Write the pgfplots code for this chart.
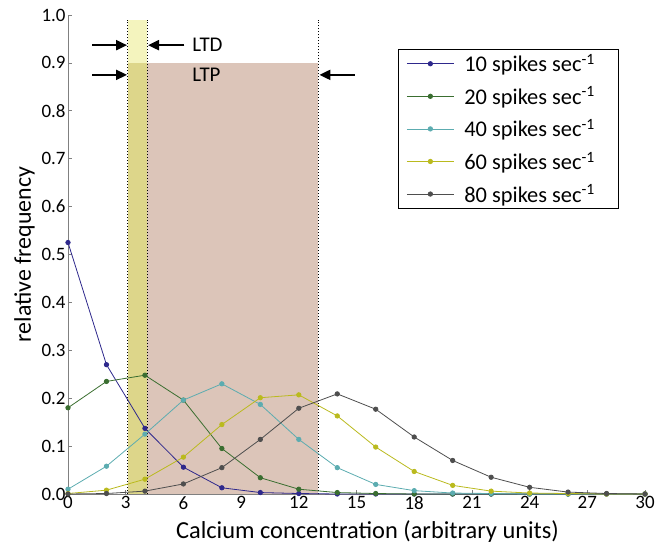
\documentclass[border=0pt]{standalone}
\usepackage{pgfplots}
\pgfplotsset{compat=1.18}
\usepackage{fontspec}
\setmainfont{Carlito}
\usetikzlibrary{arrows.meta}
\definecolor{c10}{RGB}{46,40,140}
\definecolor{c20}{RGB}{58,110,48}
\definecolor{c40}{RGB}{92,172,176}
\definecolor{c60}{RGB}{186,186,30}
\definecolor{c80}{RGB}{78,78,78}
\definecolor{ltdtop}{RGB}{244,244,190}
\definecolor{ltdbot}{RGB}{221,214,138}
\definecolor{ltp}{RGB}{220,197,185}
\begin{document}
\begin{tikzpicture}
\path[use as bounding box] (-68bp,-54bp) rectangle (602bp,494bp);
\begin{axis}[
  scale only axis, width=577bp, height=479bp,
  xmin=0, xmax=30, ymin=0, ymax=1,
  axis x line*=bottom, axis y line*=left,
  axis line style={gray, line width=0.7bp},
  tick style={gray, line width=0.7bp},
  tick align=inside, major tick length=4bp,
  xtick={0,3,...,30}, ytick={0,0.1,...,1.0},
  /pgf/number format/assume math mode=true,
  tick label style={font=\fontsize{19}{21}\selectfont},
  xticklabel style={yshift=1bp},
  yticklabel style={xshift=1bp, /pgf/number format/.cd, fixed, fixed zerofill, precision=1},
  xlabel={Calcium concentration (arbitrary units)},
  ylabel={relative frequency},
  xlabel style={font=\fontsize{24.5}{27}\selectfont, yshift=-4bp, xshift=11bp},
  ylabel style={font=\fontsize{24}{27}\selectfont, yshift=0bp},
  clip=false,
  every axis plot/.append style={line width=0.8bp, mark=*, mark size=2.2bp},
  legend style={at={(rel axis cs:0.572,0.595)}, anchor=south west, draw=black, line width=0.8bp,
    font=\fontsize{22.5}{26}\selectfont, row sep=9.5bp, inner xsep=8bp, inner ysep=3bp},
  legend cell align=left,
  legend image code/.code={\draw[mark repeat=2,mark phase=2] plot coordinates {(0cm,0cm) (0.83cm,0cm) (1.66cm,0cm)};},
]
% bands
\fill[ltdtop] (axis cs:3.1,0.9) rectangle (axis cs:4.1,0.99);
\fill[ltdbot] (axis cs:3.1,0) rectangle (axis cs:4.1,0.9);
\fill[ltp] (axis cs:4.1,0) rectangle (axis cs:13,0.9);
\draw[black, line width=0.5bp, dash pattern=on 1.5bp off 1.5bp] (axis cs:3.1,0) -- (axis cs:3.1,0.99);
\draw[black, line width=0.5bp, dash pattern=on 1.5bp off 1.5bp] (axis cs:4.1,0) -- (axis cs:4.1,0.99);
\draw[black, line width=0.5bp, dash pattern=on 1.5bp off 1.5bp] (axis cs:13,0) -- (axis cs:13,0.99);
% arrows
\draw[black, line width=2bp, -{Triangle[length=11bp,width=10bp]}] (axis cs:1.25,0.937) -- (axis cs:3.07,0.937);
\draw[black, line width=2bp, -{Triangle[length=11bp,width=10bp]}] (axis cs:6.05,0.937) -- (axis cs:4.16,0.937);
\draw[black, line width=2bp, -{Triangle[length=11bp,width=10bp]}] (axis cs:1.25,0.875) -- (axis cs:3.07,0.875);
\draw[black, line width=2bp, -{Triangle[length=11bp,width=10bp]}] (axis cs:14.9,0.875) -- (axis cs:13.07,0.875);
\node[anchor=west, font=\fontsize{21}{24}\selectfont, inner sep=0pt] at (axis cs:6.45,0.937) {LTD};
\node[anchor=west, font=\fontsize{21}{24}\selectfont, inner sep=0pt] at (axis cs:6.45,0.875) {LTP};

\addplot[c10, mark options={fill=c10}] coordinates {
(0,0.525)(2,0.270)(4,0.137)(6,0.056)(8,0.013)(10,0.003)(12,0.001)(14,0)(16,0)(18,0)(20,0)(22,0)(24,0)(26,0)(28,0)(30,0)};
\addlegendentry{\hspace{8bp}10 spikes sec\textsuperscript{-1}\hspace{14bp}\null}
\addplot[c20, mark options={fill=c20}] coordinates {
(0,0.180)(2,0.235)(4,0.248)(6,0.196)(8,0.095)(10,0.034)(12,0.010)(14,0.003)(16,0.001)(18,0)(20,0)(22,0)(24,0)(26,0)(28,0)(30,0)};
\addlegendentry{\hspace{8bp}20 spikes sec\textsuperscript{-1}\hspace{14bp}\null}
\addplot[c40, mark options={fill=c40}] coordinates {
(0,0.010)(2,0.058)(4,0.125)(6,0.196)(8,0.230)(10,0.187)(12,0.114)(14,0.055)(16,0.020)(18,0.007)(20,0.002)(22,0.001)(24,0)(26,0)(28,0)(30,0)};
\addlegendentry{\hspace{8bp}40 spikes sec\textsuperscript{-1}\hspace{14bp}\null}
\addplot[c60, mark options={fill=c60}] coordinates {
(0,0.001)(2,0.008)(4,0.031)(6,0.077)(8,0.145)(10,0.201)(12,0.207)(14,0.163)(16,0.098)(18,0.047)(20,0.018)(22,0.006)(24,0.002)(26,0.001)(28,0)(30,0)};
\addlegendentry{\hspace{8bp}60 spikes sec\textsuperscript{-1}\hspace{14bp}\null}
\addplot[c80, mark options={fill=c80}] coordinates {
(0,0)(2,0.001)(4,0.006)(6,0.021)(8,0.055)(10,0.114)(12,0.179)(14,0.209)(16,0.177)(18,0.119)(20,0.070)(22,0.035)(24,0.014)(26,0.004)(28,0.001)(30,0)};
\addlegendentry{\hspace{8bp}80 spikes sec\textsuperscript{-1}\hspace{14bp}\null}
\end{axis}
\end{tikzpicture}
\end{document}
